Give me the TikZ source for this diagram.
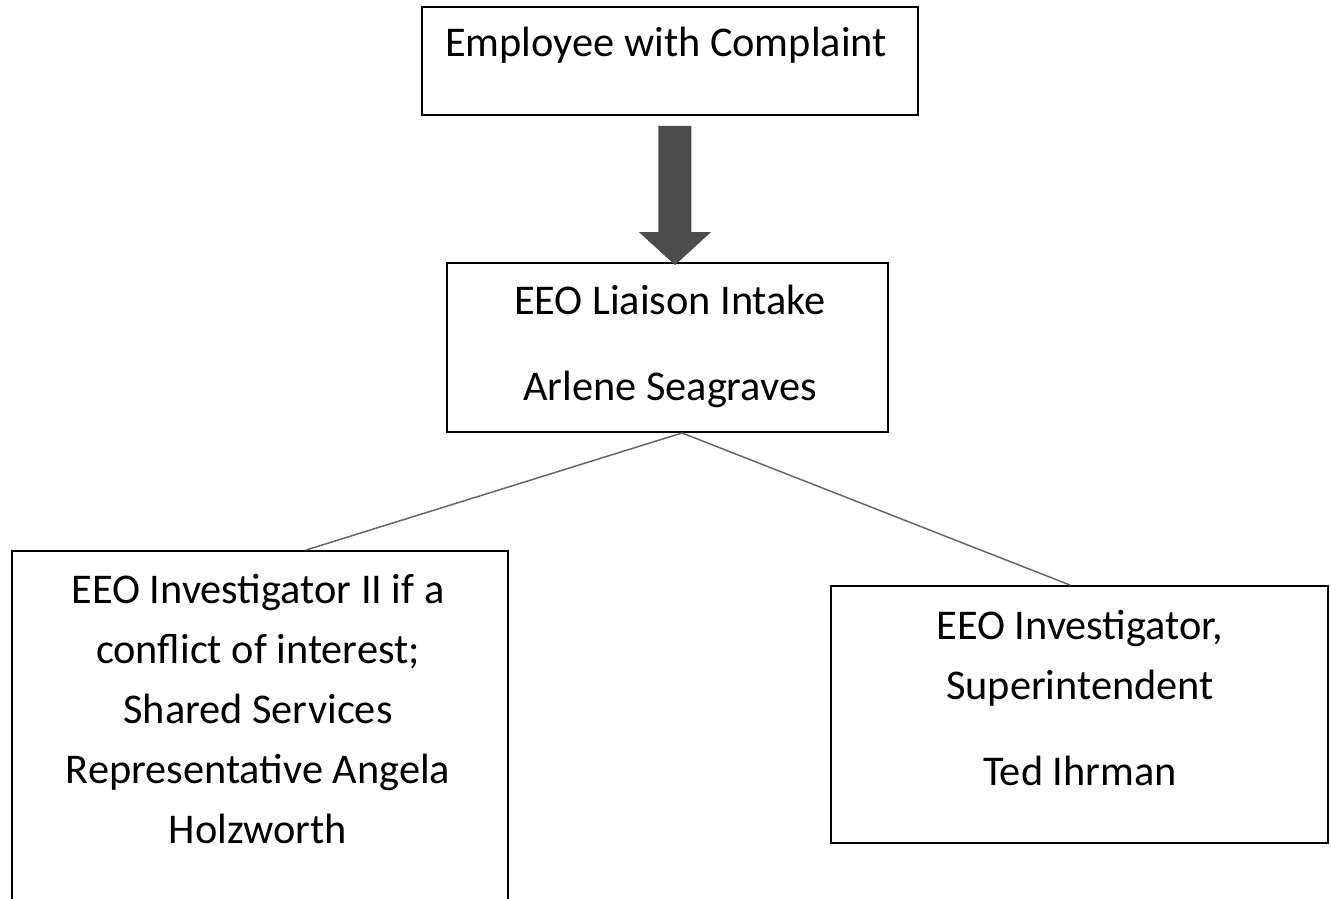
\documentclass[tikz,border=0pt]{standalone}
\usepackage{fontspec}
\setmainfont{Carlito}
\usetikzlibrary{arrows.meta}

\begin{document}
\begin{tikzpicture}[scale=0.2]
\tikzstyle{every node}+=[inner sep=0pt]
\tikzstyle{box}=[draw=black, line width=1.1pt, rectangle]
\tikzstyle{label}=[align=center, anchor=base, font=\fontsize{24.1pt}{34.1pt}\selectfont]
\tikzstyle{link}=[draw=black!60, line width=0.85pt]
\useasboundingbox (0,0) rectangle (133.1,-89.9);
\node [box, minimum width=9.92cm, minimum height=2.16cm] (employee) at (67,-6.1) {};
\node [label] (employeetext) at (66.6,-5.7) {Employee with Complaint};
\node [box, minimum width=8.82cm, minimum height=3.38cm] (intake) at (66.75,-34.75) {};
\node [label] (intaketext) at (67,-40.0) {EEO Liaison Intake\\[14.8pt] Arlene Seagraves};
\node [box, minimum width=9.92cm, minimum height=7.02cm] (shared) at (26,-72.65) {};
\node [label] (sharedtext) at (25.8,-84.3) {EEO Investigator II if a\\ conflict of interest;\\ Shared Services\\ Representative Angela\\ Holzworth};
\node [box, minimum width=9.94cm, minimum height=5.14cm] (super) at (107.95,-71.45) {};
\node [label] (supertext) at (108,-78.5) {EEO Investigator,\\ Superintendent\\[14.8pt] Ted Ihrman};
\draw [black!70, line width=0.66cm, -{Triangle[width=1.44cm, length=0.66cm, line width'=0.6pt]}] ([xshift=0.5cm, yshift=-1cm]employee.south) -- ([xshift=0.75cm, yshift=-0.3cm]intake.north);
\draw [link] ([xshift=1.45cm]intake.south) -- ([xshift=4.6cm]shared.north);
\draw [link] ([xshift=1.45cm]intake.south) -- ([xshift=-0.95cm]super.north);
\end{tikzpicture}
\end{document}
